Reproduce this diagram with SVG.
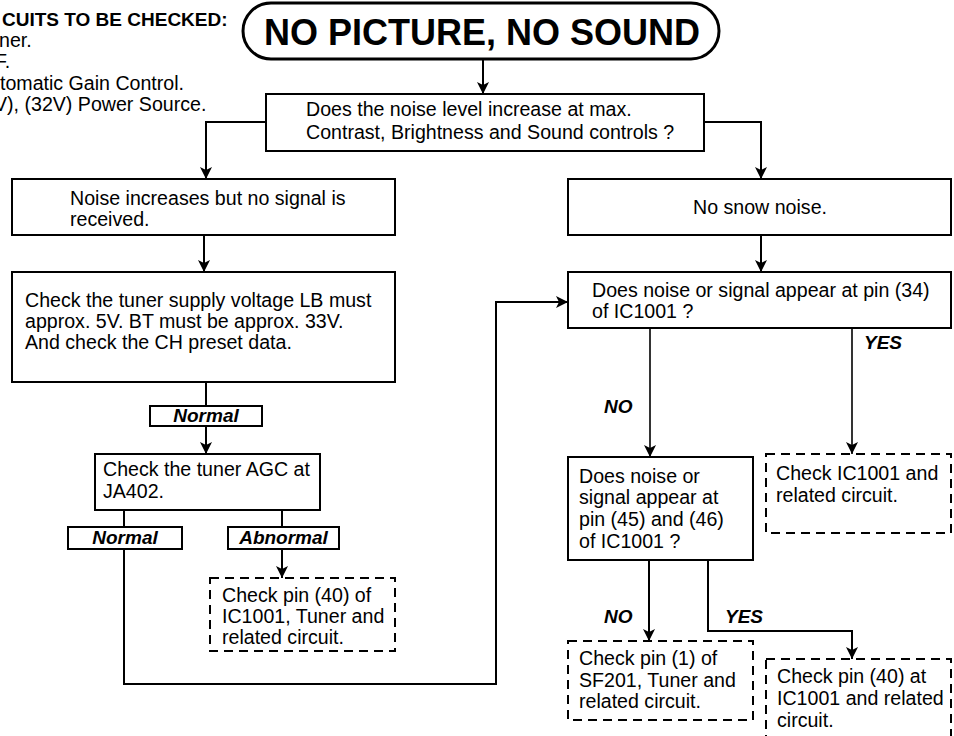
<svg xmlns="http://www.w3.org/2000/svg" width="954" height="736" viewBox="0 0 954 736">
  <defs>
    <marker id="arrow" viewBox="0 0 12 12" refX="12" refY="6" markerWidth="12" markerHeight="12" markerUnits="userSpaceOnUse" orient="auto">
      <path d="M0,0 L12,6 L0,12 L3,6 z" fill="#000"/>
    </marker>
    <style>
      .box { fill: #fff; stroke: #000; stroke-width: 2; }
      .dash { fill: #fff; stroke: #000; stroke-width: 2; stroke-dasharray: 9 6; }
      .tag { fill: #fff; stroke: #000; stroke-width: 2; }
      .pill { fill: #fff; stroke: #000; stroke-width: 3; }
      .wire { fill: none; stroke: #000; stroke-width: 2; }
      .thin { stroke-width: 1.6; }
      .arr { marker-end: url(#arrow); }
      text { font-family: "Liberation Sans", Arial, sans-serif; fill: #000; }
      .t { font-size: 19.6px; }
      .b { font-size: 19px; font-weight: bold; }
      .bi { font-size: 19px; font-weight: bold; font-style: italic; }
      .title { font-size: 36px; font-weight: bold; }
    </style>
  </defs>
  <rect width="954" height="736" fill="#fff"/>

  <!-- circuits list (left part runs off the page edge) -->
  <g id="notes">
    <text class="b" x="2" y="26">CUITS TO BE CHECKED:</text>
    <text class="t" x="-1" y="47">ner.</text>
    <text class="t" x="-5" y="68">F.</text>
    <text class="t" x="0" y="90">tomatic Gain Control.</text>
    <text class="t" x="-6" y="111">V), (32V) Power Source.</text>
  </g>

  <!-- connectors -->
  <g id="connectors">
    <path class="wire arr" d="M483,59 V94"/>
    <path class="wire arr" d="M266,122 H206 V179"/>
    <path class="wire arr" d="M704,122 H761 V179"/>
    <path class="wire arr" d="M204,235 V272"/>
    <path class="wire" d="M206,382 V406"/>
    <path class="wire arr" d="M206,426 V454"/>
    <path class="wire" d="M124,510 V527"/>
    <path class="wire arr" d="M124,549 V684 H496 V302 H568"/>
    <path class="wire" d="M282,510 V527"/>
    <path class="wire arr" d="M282,549 V578"/>
    <path class="wire arr" d="M761,235 V272"/>
    <path class="wire thin arr" d="M650,328 V457"/>
    <path class="wire thin arr" d="M852,328 V454"/>
    <path class="wire arr" d="M649,560 V641"/>
    <path class="wire arr" d="M708,560 V631 H852 V659"/>
  </g>

  <g id="start">
    <rect class="pill" x="243" y="3" width="476" height="56" rx="28"/>
    <text class="title" x="482" y="45" text-anchor="middle">NO PICTURE, NO SOUND</text>
  </g>

  <g id="q-noise">
    <rect class="box" x="266" y="94" width="438" height="57"/>
    <text class="t" x="306" y="116">Does the noise level increase at max.</text>
    <text class="t" x="306" y="139">Contrast, Brightness and Sound controls ?</text>
  </g>

  <g id="noise-no-signal">
    <rect class="box" x="12" y="179" width="383" height="56"/>
    <text class="t" x="70" y="205">Noise increases but no signal is</text>
    <text class="t" x="70" y="226">received.</text>
  </g>

  <g id="check-supply">
    <rect class="box" x="12" y="272" width="383" height="110"/>
    <text class="t" x="25" y="307">Check the tuner supply voltage LB must</text>
    <text class="t" x="25" y="328">approx. 5V. BT must be approx. 33V.</text>
    <text class="t" x="25" y="349">And check the CH preset data.</text>
  </g>

  <g id="tag-normal-1">
    <rect class="tag" x="150" y="406" width="112" height="20"/>
    <text class="bi" x="206" y="422" text-anchor="middle">Normal</text>
  </g>

  <g id="check-agc">
    <rect class="box" x="95" y="454" width="225" height="56"/>
    <text class="t" x="103" y="476">Check the tuner AGC at</text>
    <text class="t" x="103" y="498">JA402.</text>
  </g>

  <g id="tag-normal-2">
    <rect class="tag" x="68" y="527" width="114" height="22"/>
    <text class="bi" x="125" y="544" text-anchor="middle">Normal</text>
  </g>

  <g id="tag-abnormal">
    <rect class="tag" x="228" y="527" width="111" height="22"/>
    <text class="bi" x="283.5" y="544" text-anchor="middle">Abnormal</text>
  </g>

  <g id="check-pin40-tuner">
    <rect class="dash" x="210" y="578" width="185" height="73"/>
    <text class="t" x="222" y="602">Check pin (40) of</text>
    <text class="t" x="222" y="623">IC1001, Tuner and</text>
    <text class="t" x="222" y="644">related circuit.</text>
  </g>

  <g id="no-snow">
    <rect class="box" x="568" y="179" width="383" height="56"/>
    <text class="t" x="760" y="214" text-anchor="middle">No snow noise.</text>
  </g>

  <g id="q-pin34">
    <rect class="box" x="568" y="272" width="383" height="56"/>
    <text class="t" x="592" y="297">Does noise or signal appear at pin (34)</text>
    <text class="t" x="592" y="318">of IC1001 ?</text>
  </g>

  <text class="bi" x="864" y="349">YES</text>
  <text class="bi" x="604" y="413">NO</text>

  <g id="check-ic1001">
    <rect class="dash" x="766" y="454" width="185" height="79"/>
    <text class="t" x="776" y="480">Check IC1001 and</text>
    <text class="t" x="776" y="502">related circuit.</text>
  </g>

  <g id="q-pin45-46">
    <rect class="box" x="568" y="457" width="185" height="103"/>
    <text class="t" x="579" y="483">Does noise or</text>
    <text class="t" x="579" y="504">signal appear at</text>
    <text class="t" x="579" y="526">pin (45) and (46)</text>
    <text class="t" x="579" y="548">of IC1001 ?</text>
  </g>

  <text class="bi" x="604" y="623">NO</text>
  <text class="bi" x="725" y="623">YES</text>

  <g id="check-sf201">
    <rect class="dash" x="568" y="641" width="185" height="79"/>
    <text class="t" x="579" y="665">Check pin (1) of</text>
    <text class="t" x="579" y="687">SF201, Tuner and</text>
    <text class="t" x="579" y="708">related circuit.</text>
  </g>

  <g id="check-pin40-ic">
    <rect class="dash" x="766" y="659" width="185" height="90"/>
    <text class="t" x="777" y="683">Check pin (40) at</text>
    <text class="t" x="777" y="705">IC1001 and related</text>
    <text class="t" x="777" y="727">circuit.</text>
  </g>
</svg>
